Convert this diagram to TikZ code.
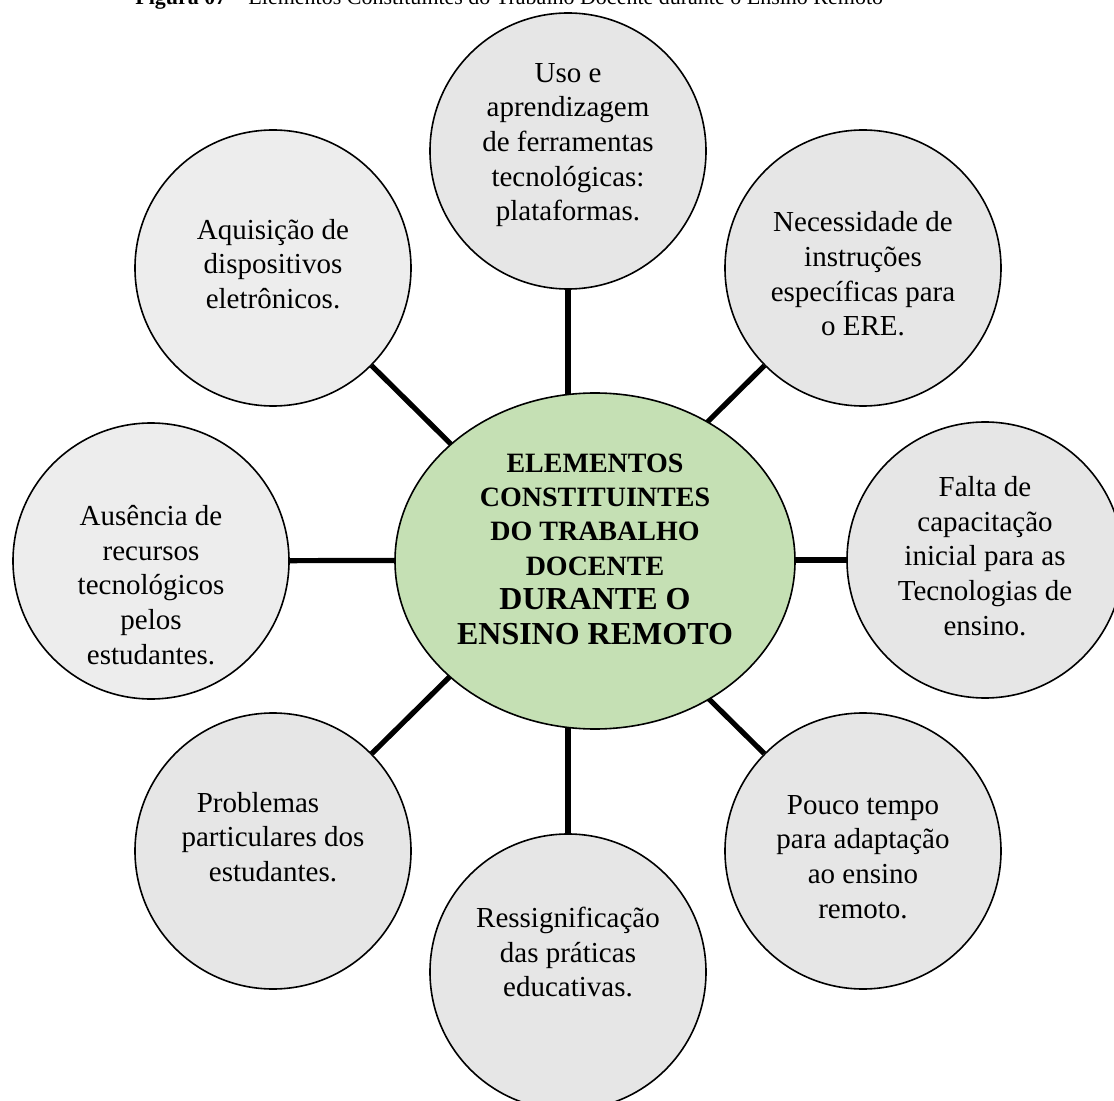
\documentclass[tikz,border=0pt]{standalone}
\usepackage{fontspec}
\setmainfont{Liberation Serif}
\usepackage{xcolor}
\usepackage{tikz}
\usetikzlibrary{shapes.geometric,backgrounds}

\definecolor{coregreen}{HTML}{C5E0B4}
\definecolor{bubblegray}{HTML}{E6E6E6}
\definecolor{bubblelight}{HTML}{EDEDED}

\begin{document}
\begin{tikzpicture}[
  x=0.5pt, y=-0.5pt,
  bubble/.style={circle, draw, line width=0.8pt, fill=bubblegray, minimum size=138pt, inner sep=0pt},
  caption/.style={align=center, font=\fontsize{14.5}{17.3}\selectfont},
  core/.style={ellipse, draw, line width=0.8pt, fill=coregreen, minimum width=200pt, minimum height=168pt, inner sep=0pt},
  link/.style={line width=2.6pt}
]
  \useasboundingbox (0,0) rectangle (1114,1101);
  \node[anchor=base west, inner sep=0pt, font=\fontsize{11}{13}\selectfont] (title) at (135,5)
    {\textbf{Figura 07} – Elementos Constituintes do Trabalho Docente durante o Ensino Remoto};

  % centre of the spokes
  \coordinate (hub) at (568,560);

  \node[core, label={[align=center, yshift=6pt, font=\fontsize{14}{17.2}\bfseries]center:{ELEMENTOS\\CONSTITUINTES\\DO TRABALHO\\DOCENTE\\{\fontsize{16}{17.2}\selectfont DURANTE O}\\{\fontsize{16}{17.2}\selectfont ENSINO REMOTO}}}] (core) at (595,561) {};

  \node[bubble, label={[caption, yshift=3pt]center:{Uso e\\aprendizagem\\de ferramentas\\tecnológicas:\\plataformas.}}] (uso) at (568,151) {};
  \node[bubble, label={[caption, yshift=-3pt]center:{Necessidade de\\instruções\\específicas para\\o ERE.}}] (nec) at (863,268) {};
  \node[bubble, label={[caption, yshift=2pt]center:{Falta de\\capacitação\\inicial para as\\Tecnologias de\\ensino.}}] (fal) at (985,560) {};
  \node[bubble, label={[caption, yshift=-3pt]center:{Pouco tempo\\para adaptação\\ao ensino\\remoto.}}] (pou) at (863,851) {};
  \node[bubble, label={[caption, yshift=10pt]center:{Ressignificação\\das práticas\\educativas.}}] (res) at (568,972) {};
  \node[bubble, label={[caption, yshift=7pt]center:{Problemas\hspace*{15pt}\\particulares dos\\estudantes.}}] (pro) at (273,851) {};
  \node[bubble, fill=bubblelight, label={[caption, yshift=-12pt]center:{Ausência de\\recursos\\tecnológicos\\pelos\\estudantes.}}] (aus) at (151,561) {};
  \node[bubble, fill=bubblelight, label={[caption, yshift=2pt]center:{Aquisição de\\dispositivos\\eletrônicos.}}] (aqu) at (273,268) {};

  % spokes behind the shapes
  \begin{scope}[on background layer]
    \foreach \n in {uso,nec,fal,pou,res,pro,aus,aqu}
      \draw[link] (\n) -- (hub);
  \end{scope}
\end{tikzpicture}
\end{document}
